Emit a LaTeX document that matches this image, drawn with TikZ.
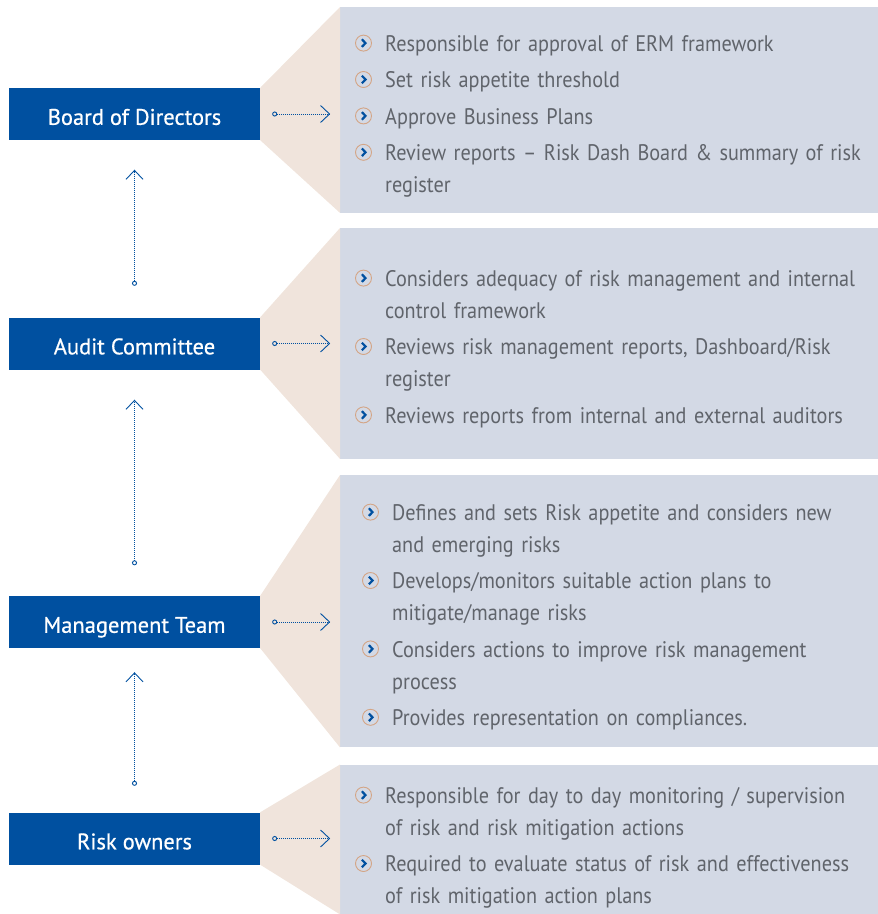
\documentclass[tikz,border=0pt]{standalone}
\usepackage{fontspec}
\setmainfont{PT Sans}
\newfontfamily\dutyfont[FakeStretch=0.9]{PT Sans}
\newfontfamily\rolefont[FakeBold=0.6]{PT Sans}
\usetikzlibrary{positioning,calc,arrows.meta}
\definecolor{roleblue}{HTML}{0050A0}
\definecolor{panelgray}{HTML}{D3D9E5}
\definecolor{fanbeige}{HTML}{F0E4DC}
\definecolor{dutygray}{HTML}{60646B}
\definecolor{tickring}{HTML}{D4A585}
\tikzset{
role/.style = {fill=roleblue, text=white, minimum width=251pt, minimum height=52pt, inner sep=0pt, text height=21.6pt, text depth=0pt, font=\rolefont\fontsize{22.5}{26}\selectfont},
panel/.style = {fill=panelgray, anchor=north west, inner sep=0pt, minimum width=538pt},
fan/.style = {fill=fanbeige},
duty/.style = {anchor=north west, inner sep=0pt, text width=520pt, align=left, text=dutygray, font=\dutyfont\fontsize{22.5}{32}\selectfont, execute at begin node=\strut, execute at end node=\strut},
tick/.style = {circle, draw=tickring, line width=0.9pt, minimum size=16pt, inner sep=0pt,
  path picture={\draw[roleblue, line width=2.2pt] ([shift={(-1.6pt,3.8pt)}]path picture bounding box.center) -- ++(3.6pt,-3.8pt) -- ++(-3.6pt,-3.8pt);}},
link/.style = {roleblue, line width=0.9pt, dash pattern=on 0.9pt off 1.1pt, {Circle[open,length=5pt,width=5pt]}-{Straight Barb[length=9pt,width=17pt]}}
}
\begin{document}
\begin{tikzpicture}[x=1pt, y=-1pt]
  \useasboundingbox (0,0) rectangle (878,914);

  \node [role]                                   (bod)     at (134.5,114)   {Board of Directors};
  \node [role]                                   (audit)   at (134.5,343.5) {Audit Committee};
  \node [role]                                   (mgmt)    at (134.5,622)   {Management Team};
  \node [role]                                   (owners)  at (134.5,838.5) {Risk owners};

  \node [panel, minimum height=205.5pt]           (pbod)    at (340,7)     {};
  \node [panel, minimum height=230.5pt]           (paudit)  at (340,228)   {};
  \node [panel, minimum height=272pt]             (pmgmt)   at (340,475)   {};
  \node [panel, minimum height=149.5pt]           (powners) at (340,764.5) {};

  \fill [fan] (bod.north east) -- (pbod.north west) -- (pbod.south west) -- (bod.south east) -- cycle;
  \fill [fan] (audit.north east) -- (paudit.north west) -- (paudit.south west) -- (audit.south east) -- cycle;
  \fill [fan] (mgmt.north east) -- (pmgmt.north west) -- (pmgmt.south west) -- (mgmt.south east) -- cycle;
  \fill [fan] (owners.north east) -- (powners.north west) -- (powners.south west) -- (owners.south east) -- cycle;

  \node [duty]                                    (bod1) at (385,28.6) {Responsible for approval of ERM framework};
  \node [duty, below right=4pt and 0pt of bod1.south west] (bod2) {Set risk appetite threshold};
  \node [duty, below right=4pt and 0pt of bod2.south west] (bod3) {Approve Business Plans};
  \node [duty, below right=4pt and 0pt of bod3.south west] (bod4) {Review reports – Risk Dash Board \& summary of risk\\register};

  \node [duty]                                    (audit1) at (385,263.6) {Considers adequacy of risk management and internal\\control framework};
  \node [duty, below right=4pt and 0pt of audit1.south west] (audit2) {Reviews risk management reports, Dashboard/Risk\\register};
  \node [duty, below right=4pt and 0pt of audit2.south west] (audit3) {Reviews reports from internal and external auditors};

  \node [duty]                                    (mgmt1) at (392,497.6) {Defines and sets Risk appetite and considers new\\and emerging risks};
  \node [duty, below right=4pt and 0pt of mgmt1.south west] (mgmt2) {Develops/monitors suitable action plans to\\mitigate/manage risks};
  \node [duty, below right=4pt and 0pt of mgmt2.south west] (mgmt3) {Considers actions to improve risk management\\process};
  \node [duty, below right=4pt and 0pt of mgmt3.south west] (mgmt4) {Provides representation on compliances.};

  \node [duty]                                    (owners1) at (385,780.6) {Responsible for day to day monitoring / supervision\\of risk and risk mitigation actions};
  \node [duty, below right=4pt and 0pt of owners1.south west] (owners2) {Required to evaluate status of risk and effectiveness\\of risk mitigation action plans};

  \foreach \d in {bod1,bod2,bod3,bod4,audit1,audit2,audit3,mgmt1,mgmt2,mgmt3,mgmt4,owners1,owners2}
    \node [tick] (tick-\d) at ([shift={(-21.5pt,-14.5pt)}]\d.north west) {};

  \draw [link] ([xshift=12pt]bod.east)    -- ([xshift=70pt]bod.east);
  \draw [link] ([xshift=12pt]audit.east)  -- ([xshift=70pt]audit.east);
  \draw [link] ([xshift=12pt]mgmt.east)   -- ([xshift=70pt]mgmt.east);
  \draw [link] ([xshift=12pt]owners.east) -- ([xshift=70pt]owners.east);

  \draw [link] ([yshift=31.5pt]audit.north)  -- ([yshift=-29.5pt]bod.south);
  \draw [link] ([yshift=30.5pt]mgmt.north)   -- ([yshift=-30pt]audit.south);
  \draw [link] ([yshift=26.5pt]owners.north) -- ([yshift=-24pt]mgmt.south);
\end{tikzpicture}
\end{document}
